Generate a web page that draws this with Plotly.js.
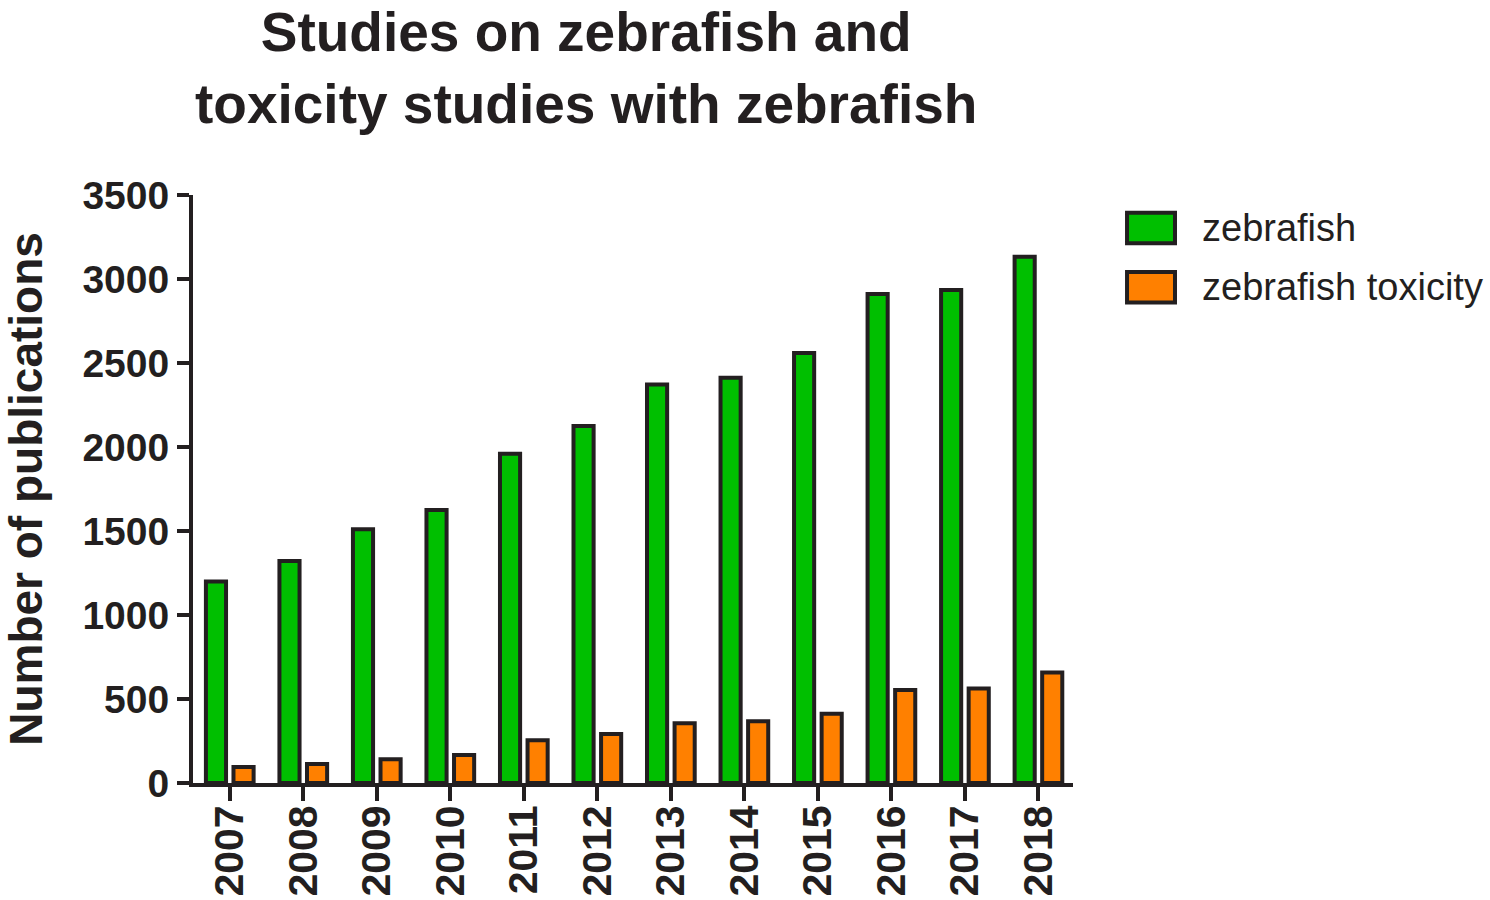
<!DOCTYPE html>
<html>
<head>
<meta charset="utf-8">
<script src="https://cdn.plot.ly/plotly-3.0.1.min.js"></script>
<style>
  html, body { margin: 0; padding: 0; background: #fff; }
  #chart { width: 1490px; height: 900px; }
</style>
</head>
<body>
<div id="chart"></div>
<script>
// publication counts per year
var years = ["2007", "2008", "2009", "2010", "2011", "2012", "2013", "2014", "2015", "2016", "2017", "2018"];
var zebrafish = [1200, 1322, 1510, 1625, 1960, 2125, 2372, 2412, 2560, 2911, 2935, 3132];
var zebrafishToxicity = [95, 113, 141, 167, 254, 292, 356, 367, 412, 553, 563, 657];
var seriesNames = ["zebrafish", "zebrafish toxicity"];
var yTicks = [0, 500, 1000, 1500, 2000, 2500, 3000, 3500];

var ink = "#231f20";
var green = "#00bf00";
var orange = "#ff8000";
var font = "Liberation Sans, Arial, sans-serif";

function barTrace(name, values, color) {
  return {
    type: "bar",
    name: name,
    x: years,
    y: values,
    marker: { color: color, line: { color: ink, width: 4 } },
    hoverinfo: "none"
  };
}

var traces = [
  barTrace(seriesNames[0], zebrafish, green),
  barTrace(seriesNames[1], zebrafishToxicity, orange)
];

// the legend is drawn by hand so the swatches can be as big as in the figure
var swatchColors = [green, orange];
var shapes = [];
var annotations = [];
var rowY = [0.944, 0.843];
for (let i = 0; i < seriesNames.length; i++) {
  shapes.push({
    type: "rect", xref: "paper", yref: "paper",
    x0: 1.0614, x1: 1.1159, y0: rowY[i] - 0.026, y1: rowY[i] + 0.026,
    fillcolor: swatchColors[i], line: { color: ink, width: 4 }
  });
  annotations.push({
    xref: "paper", yref: "paper", x: 1.1443, y: rowY[i],
    xanchor: "left", yanchor: "middle", showarrow: false,
    text: seriesNames[i],
    font: { family: font, size: 38, color: ink }
  });
}

// title as a paper annotation so its two lines sit right at the top edge
annotations.push({
  xref: "paper", yref: "paper", x: 0.4466, y: 1.334,
  xanchor: "center", yanchor: "top", showarrow: false,
  text: "<b>Studies on zebrafish and<br>toxicity studies with zebrafish</b>",
  font: { family: font, size: 55, color: ink }
});

var layout = {
  width: 1490,
  height: 900,
  margin: { l: 193, r: 417, t: 195, b: 117 },
  paper_bgcolor: "#fff",
  plot_bgcolor: "#fff",
  showlegend: false,
  barmode: "group",
  bargap: 0.25,
  bargroupgap: 0.27,
  xaxis: {
    type: "category",
    range: [-0.5, 11.47],
    showgrid: false,
    zeroline: false,
    showline: true,
    linecolor: ink,
    linewidth: 4,
    ticks: "outside",
    ticklen: 14,
    tickwidth: 4,
    tickcolor: ink,
    tickangle: -90,
    ticklabelstandoff: -12,
    tickfont: { family: font, size: 41, color: ink, weight: "bold" }
  },
  yaxis: {
    range: [0, 3500],
    tickvals: yTicks,
    ticktext: yTicks.map(String),
    showgrid: false,
    zeroline: false,
    showline: true,
    linecolor: ink,
    linewidth: 4,
    ticks: "outside",
    ticklen: 12,
    tickwidth: 4,
    tickcolor: ink,
    tickfont: { family: font, size: 39, color: ink, weight: "bold" },
    title: {
      text: "<b>Number of publications</b>",
      font: { family: font, size: 46, color: ink },
      standoff: 40
    }
  },
  shapes: shapes,
  annotations: annotations
};

Plotly.newPlot("chart", traces, layout, { staticPlot: true, displayModeBar: false });
</script>
</body>
</html>
